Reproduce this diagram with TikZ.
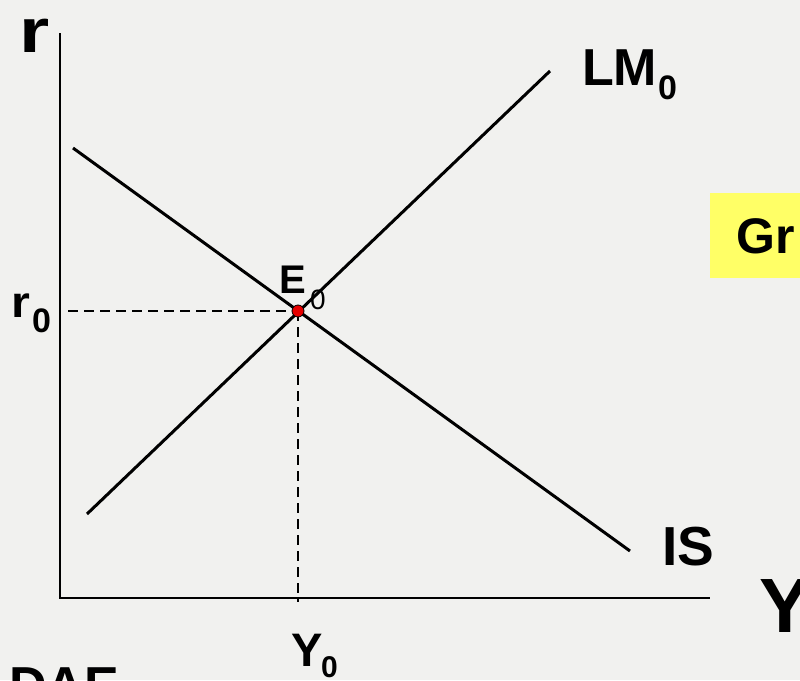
\documentclass[tikz,border=0pt]{standalone}
\usepackage{fontspec}
\setmainfont{Liberation Sans}
\definecolor{bg}{RGB}{241,241,239}
\definecolor{boxyellow}{RGB}{255,255,102}
\definecolor{ptred}{RGB}{230,0,0}
\begin{document}
\begin{tikzpicture}[x=1pt,y=-1pt,
  curve/.style={line width=3pt},
  axisline/.style={line width=2.6pt},
  guide/.style={line width=1.6pt, dash pattern=on 10pt off 6pt},
  lbl/.style={inner sep=0pt, anchor=base west, font=\bfseries}]
\useasboundingbox (0,0) rectangle (800,680);
\clip (0,0) rectangle (800,680);
\fill[bg] (0,0) rectangle (800,680);
% axes
\coordinate (O) at (60,598);
\coordinate (ytop) at (60,33);
\coordinate (xend) at (710,598);
\draw[axisline] (ytop) -- (O) -- (xend);
% curves
\coordinate (IS1) at (73,148);
\coordinate (IS2) at (630,551);
\coordinate (LM1) at (87,514);
\coordinate (LM2) at (550,71);
\coordinate (E) at (298,311);
\coordinate (rE) at (68,311);
\coordinate (yE) at (298,602);
\draw[guide] (rE) -- (E);
\draw[guide] (E) -- (yE);
\draw[curve] (IS1) -- (IS2);
\draw[curve] (LM1) -- (LM2);
\node[circle, fill=ptred, draw=black, line width=0.8pt, minimum size=12pt, inner sep=0pt] (Ept) at (E) {};
% labels
\node[lbl, font=\bfseries\fontsize{62}{62}\selectfont] (rlab) at (19,52) {\scalebox{1.25}[1]{r}};
\node[lbl, font=\bfseries\fontsize{77}{77}\selectfont] (Ylab) at (759,632) {Y};
\node[lbl, font=\bfseries\fontsize{44}{44}\selectfont] (r0) at (11,317) {\scalebox{1.1}[1]{r}};
\node[lbl, font=\bfseries\fontsize{34}{34}\selectfont] (r0s) at (32,332) {0};
\node[lbl, font=\bfseries\fontsize{52}{52}\selectfont] (LM) at (582,85) {LM};
\node[lbl, font=\bfseries\fontsize{34}{34}\selectfont] (LMs) at (658,99) {0};
\node[lbl, font=\bfseries\fontsize{40}{40}\selectfont] (El) at (279,293) {E};
\node[lbl, font=\fontsize{28}{28}\selectfont] (Els) at (310,309) {0};
\node[lbl, font=\bfseries\fontsize{55}{55}\selectfont] (IS) at (662,565) {IS};
\node[lbl, font=\bfseries\fontsize{47}{47}\selectfont] (Y0) at (291,666) {Y};
\node[lbl, font=\bfseries\fontsize{30}{30}\selectfont] (Y0s) at (321,677) {0};
\node[lbl, font=\bfseries\fontsize{52}{52}\selectfont] (DAE) at (9,703) {DAE};
% yellow box
\fill[boxyellow] (710,193) rectangle (820,278);
\node[lbl, font=\bfseries\fontsize{50}{50}\selectfont] (Gr) at (736,253) {Gr};
\end{tikzpicture}
\end{document}
